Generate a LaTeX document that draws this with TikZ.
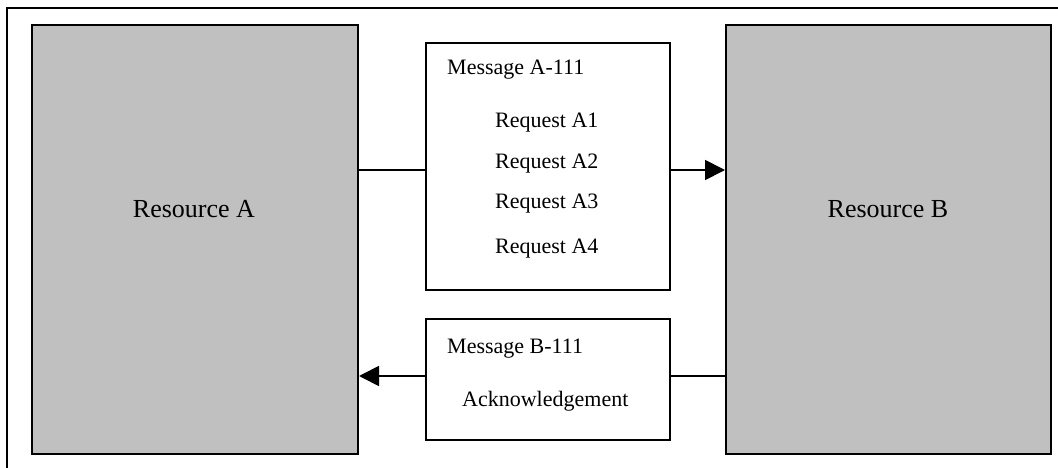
\documentclass[tikz,border=0pt]{standalone}
\usepackage{fontspec}
\setmainfont{Liberation Serif}
\usetikzlibrary{arrows.meta}
\definecolor{resgray}{RGB}{192,192,192}
\begin{document}
\begin{tikzpicture}[x=1pt,y=-1pt,
  resource/.style={draw, line width=2pt, fill=resgray, inner sep=0pt, anchor=north west},
  msgbox/.style={draw, line width=1.8pt, fill=white, inner sep=0pt, anchor=north west},
  msgtext/.style={anchor=base west, inner sep=0pt, font=\fontsize{22}{26}\selectfont},
  restext/.style={anchor=base, inner sep=0pt, font=\fontsize{26}{30}\selectfont},
  link/.style={line width=1.8pt},
  flow/.style={link, -{Triangle[length=20pt,width=20pt]}}]
  \useasboundingbox (0,0) rectangle (1058,468);
  \clip (0,0) rectangle (1058,468);
  \fill[white] (0,0) rectangle (1058,468);

  % outer frame (runs past the right and bottom edges)
  \draw[line width=2pt] (7,8) rectangle (1080,490);

  % the two resources
  \node[resource, minimum width=326pt, minimum height=429pt] (resA) at (31,24) {};
  \node[resource, minimum width=325pt, minimum height=429pt] (resB) at (725,24) {};
  \node[restext] (resAlbl) at (194,217) {Resource A};
  \node[restext] (resBlbl) at (888,217) {Resource B};

  % message boxes
  \node[msgbox, minimum width=244pt, minimum height=247pt] (msgA) at (425,42) {};
  \node[msgbox, minimum width=244pt, minimum height=121pt] (msgB) at (425,318) {};

  % contents of message A
  \node[msgtext] (mA)  at (447,75)  {Message A-111};
  \node[msgtext] (rA1) at (495,128) {Request A1};
  \node[msgtext] (rA2) at (495,168) {Request A2};
  \node[msgtext] (rA3) at (495,208) {Request A3};
  \node[msgtext] (rA4) at (495,253) {Request A4};

  % contents of message B
  \node[msgtext] (mB)  at (447,353) {Message B-111};
  \node[msgtext] (ack) at (462,406) {Acknowledgement};

  % connector heights
  \coordinate (yA) at (0,170);
  \coordinate (yB) at (0,376);

  % A -> B through message A
  \draw[link] (resA.east |- yA) -- (msgA.west |- yA);
  \draw[flow] (msgA.east |- yA) -- (resB.west |- yA);

  % B -> A through message B
  \draw[link] (resB.west |- yB) -- (msgB.east |- yB);
  \draw[flow] (msgB.west |- yB) -- (resA.east |- yB);
\end{tikzpicture}
\end{document}
